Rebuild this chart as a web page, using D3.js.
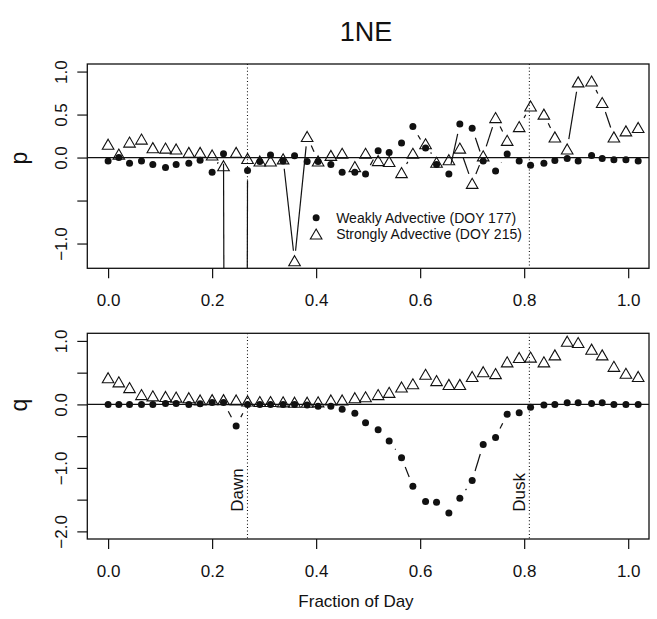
<!DOCTYPE html>
<html>
<head>
  <meta charset="utf-8">
  <title>1NE p and q</title>
  <script src="https://d3js.org/d3.v7.min.js"></script>
  <style>
  body {
    margin: 0;
    background: white;
  }
  text {
    font-family: 'Liberation Sans', Arial, Helvetica, sans-serif;
    fill: #111;
  }
  </style>
</head>
<body>

<div id='container'></div>

<script>

// fraction of day for each sample
var dayFrac = [0.000, 0.0206, 0.0412, 0.0642, 0.0860, 0.1104, 0.1308, 0.1552, 0.1769, 0.2000,
  0.2219, 0.2462, 0.2681, 0.2917, 0.3123, 0.3365, 0.3585, 0.3827, 0.4038, 0.4283,
  0.4500, 0.4744, 0.4950, 0.5192, 0.5404, 0.5642, 0.5860, 0.6104, 0.6315, 0.6552,
  0.6763, 0.7000, 0.7212, 0.7450, 0.7673, 0.7904, 0.8123, 0.8379, 0.8590, 0.8827,
  0.9038, 0.9296, 0.9500, 0.9725, 0.9956, 1.0192]

// p, weakly advective (DOY 177) -- one value is far off scale
var pWeak = [-0.04, 0.00, -0.065, -0.04, -0.08, -0.115, -0.08, -0.065, -0.03, -0.17,
  0.045, -50, -0.15, -0.045, 0.03, -0.04, 0.02, -0.045, -0.045, -0.08,
  -0.17, -0.17, -0.19, 0.08, 0.06, 0.17, 0.36, 0.11, -0.08, -0.19,
  0.39, 0.34, -0.04, -0.155, 0.04, -0.04, -0.09, -0.065, -0.035, -0.01,
  -0.04, 0.025, -0.01, -0.025, -0.025, -0.04]

// p, strongly advective (DOY 215)
var pStrong = [0.155, 0.04, 0.18, 0.215, 0.115, 0.11, 0.10, 0.06, 0.06, 0.03,
  -0.095, 0.06, -0.01, -0.04, -0.04, -0.015, -1.2, 0.245, -0.04, 0.025,
  0.05, -0.105, 0.05, -0.035, -0.045, -0.175, 0.05, 0.16, -0.055, -0.025,
  0.11, -0.30, 0.02, 0.465, 0.20, 0.36, 0.60, 0.505, 0.24, 0.10,
  0.88, 0.89, 0.64, 0.24, 0.31, 0.35]

var qWeak = [0, 0, 0, 0, 0, 0.015, 0.015, 0, 0.01, 0.03,
  0.03, -0.34, 0, 0, 0, 0, 0, -0.01, -0.03, -0.03,
  -0.075, -0.14, -0.29, -0.40, -0.575, -0.84, -1.29, -1.53, -1.54, -1.71,
  -1.48, -1.20, -0.63, -0.52, -0.155, -0.13, -0.045, -0.01, 0, 0.025,
  0.025, 0.015, 0.025, 0, 0, 0]

var qStrong = [0.42, 0.355, 0.265, 0.155, 0.135, 0.125, 0.115, 0.105, 0.07, 0.075,
  0.075, 0.07, 0.055, 0.045, 0.045, 0.04, 0.035, 0.035, 0.04, 0.07,
  0.07, 0.105, 0.12, 0.155, 0.19, 0.275, 0.325, 0.475, 0.375, 0.315,
  0.315, 0.44, 0.515, 0.485, 0.67, 0.74, 0.745, 0.67, 0.78, 0.995,
  0.975, 0.87, 0.78, 0.60, 0.49, 0.44]

var xTicks = [0, 0.2, 0.4, 0.6, 0.8, 1.0]
var pTicks = [-1, -0.5, 0, 0.5, 1]
var pTickLabels = [-1, 0, 0.5, 1]
var qTicks = [-2, -1.5, -1, -0.5, 0, 0.5, 1]
var qTickLabels = [-2, -1, 0, 1]

var dawn = 0.268
var dusk = 0.81

var legendLabels = ['Weakly Advective (DOY 177)', 'Strongly Advective (DOY 215)']


const width = 657
const height = 619
const left = 87.3
const right = 649
const gap = 10   // R type="b" leaves a gap round each point
const ink = '#111'

var svg = d3.select('#container')
  .append('svg')
  .attr('width', width)
  .attr('height', height)

// R style: 4% padding on the axis limits
function padded(lo, hi) {
  var d = (hi - lo) * 0.04
  return [lo - d, hi + d]
}

var x = d3.scaleLinear()
  .domain(padded(0, 1))
  .range([left, right])

var fmt = d3.format('.1f')

function triPath(s) {
  var h = s * 0.866
  return 'M0,' + (-h / 2) + 'L' + (s / 2) + ',' + (h / 2) + 'L' + (-s / 2) + ',' + (h / 2) + 'Z'
}

function typeB(g, xs, ys, y) {
  for (var i = 0; i < xs.length - 1; i++) {
    var x0 = x(xs[i]), y0 = y(ys[i])
    var x1 = x(xs[i + 1]), y1 = y(ys[i + 1])
    var dx = x1 - x0, dy = y1 - y0
    var d = Math.sqrt(dx * dx + dy * dy)
    if (d <= 2 * gap) continue
    var f = gap / d
    g.append('line')
      .attr('x1', x0 + f * dx).attr('y1', y0 + f * dy)
      .attr('x2', x1 - f * dx).attr('y2', y1 - f * dy)
      .style('stroke', ink)
      .style('stroke-width', 1.2)
  }
}

function drawPanel(opts) {
  var top = opts.top, bottom = opts.bottom

  var y = d3.scaleLinear()
    .domain(padded(opts.ylim[0], opts.ylim[1]))
    .range([bottom, top])

  var g = svg.append('g')

  svg.append('clipPath')
    .attr('id', opts.id)
    .append('rect')
    .attr('x', left).attr('y', top)
    .attr('width', right - left).attr('height', bottom - top)

  var inner = g.append('g').attr('clip-path', 'url(#' + opts.id + ')')

  // zero line
  inner.append('line')
    .attr('x1', left).attr('x2', right)
    .attr('y1', y(0)).attr('y2', y(0))
    .style('stroke', ink)
    .style('stroke-width', 1.2)

  // dawn / dusk
  inner.selectAll('.sun')
    .data([dawn, dusk])
    .enter()
    .append('line')
    .attr('x1', (d) => x(d)).attr('x2', (d) => x(d))
    .attr('y1', top).attr('y2', bottom)
    .style('stroke', ink)
    .style('stroke-width', 1.1)
    .style('stroke-dasharray', '1,2.4')

  typeB(inner, dayFrac, opts.weak, y)
  typeB(inner, dayFrac, opts.strong, y)

  inner.selectAll('.weak')
    .data(opts.weak)
    .enter()
    .append('circle')
    .attr('cx', (d, i) => x(dayFrac[i]))
    .attr('cy', (d) => y(d))
    .attr('r', 3.5)
    .style('fill', ink)

  inner.selectAll('.strong')
    .data(opts.strong)
    .enter()
    .append('path')
    .attr('d', triPath(11.6))
    .attr('transform', (d, i) => 'translate(' + x(dayFrac[i]) + ',' + y(d) + ')')
    .style('fill', 'none')
    .style('stroke', ink)
    .style('stroke-width', 1.1)

  // box
  g.append('rect')
    .attr('x', left).attr('y', top)
    .attr('width', right - left).attr('height', bottom - top)
    .style('fill', 'none')
    .style('stroke', ink)
    .style('stroke-width', 1.3)

  var xAxis = d3.axisBottom(x)
    .tickValues(xTicks)
    .tickFormat(fmt)
    .tickSize(10)
    .tickSizeOuter(0)
    .tickPadding(16)

  var gx = g.append('g')
    .attr('transform', 'translate(0,' + bottom + ')')
    .call(xAxis)
  gx.select('.domain').remove()

  var yAxis = d3.axisLeft(y)
    .tickValues(opts.ticks)
    .tickFormat((d) => opts.labels.indexOf(d) >= 0 ? fmt(d) : '')
    .tickSize(10)
    .tickSizeOuter(0)

  var gy = g.append('g')
    .attr('transform', 'translate(' + left + ',0)')
    .call(yAxis)
  gy.select('.domain').remove()
  gy.selectAll('text')
    .attr('x', 0)
    .attr('dy', 0)
    .attr('text-anchor', 'middle')
    .attr('transform', 'translate(-20,0) rotate(-90)')

  g.selectAll('.tick line').style('stroke', ink).style('stroke-width', 1.2)
  g.selectAll('.tick text')
    .style('font-size', '17px')
    .style('font-family', "'Liberation Sans', Arial, sans-serif")
    .style('fill', ink)

  // axis title
  g.append('text')
    .attr('transform', 'translate(27,' + opts.labelY + ') rotate(-90)')
    .attr('text-anchor', 'middle')
    .style('font-size', '23px')
    .text(opts.name)

  return y
}

svg.append('text')
  .attr('x', 366)
  .attr('y', 41)
  .attr('text-anchor', 'middle')
  .style('font-size', '27px')
  .text('1NE')

var yp = drawPanel({
  id: 'clipP', top: 64, bottom: 268.3, ylim: [-1.2, 1.0],
  weak: pWeak, strong: pStrong, ticks: pTicks, labels: pTickLabels,
  name: 'p', labelY: 158
})

var yq = drawPanel({
  id: 'clipQ', top: 333.3, bottom: 539, ylim: [-2, 1],
  weak: qWeak, strong: qStrong, ticks: qTicks, labels: qTickLabels,
  name: 'q', labelY: 405
})

// legend in the p panel
var legend = svg.append('g')
  .attr('transform', 'translate(' + x(0.4) + ',' + yp(-0.70) + ')')

legend.append('circle')
  .attr('cx', 0).attr('cy', 0).attr('r', 3.5)
  .style('fill', ink)
legend.append('path')
  .attr('d', triPath(11.6))
  .attr('transform', 'translate(0,16.3)')
  .style('fill', 'none')
  .style('stroke', ink)
  .style('stroke-width', 1.1)

legend.selectAll('.lab')
  .data(legendLabels)
  .enter()
  .append('text')
  .attr('x', 20)
  .attr('y', (d, i) => i * 16.3)
  .attr('dy', '0.35em')
  .style('font-size', '14px')
  .text((d) => d)

// dawn and dusk labels in the q panel
svg.selectAll('.sunLab')
  .data([['Dawn', dawn], ['Dusk', dusk]])
  .enter()
  .append('text')
  .attr('transform', (d) => 'translate(' + (x(d[1]) - 4.5) + ',' + yq(-1.69) + ') rotate(-90)')
  .style('font-size', '17px')
  .text((d) => d[0])

svg.append('text')
  .attr('x', 356)
  .attr('y', 607)
  .attr('text-anchor', 'middle')
  .style('font-size', '17px')
  .text('Fraction of Day')

</script>
</body>
</html>
